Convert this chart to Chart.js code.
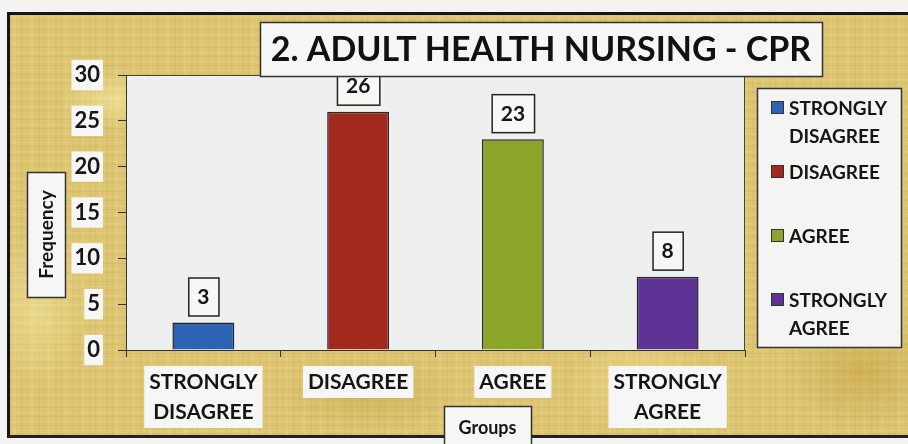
<!DOCTYPE html>
<html>
<head>
<meta charset="utf-8">
<script src="https://cdn.jsdelivr.net/npm/chart.js@4"></script>
<style>
  html, body { margin:0; padding:0; width:908px; height:444px; overflow:hidden; background:#f3f3f1; }
  #frame {
    position:absolute; left:7px; top:12px; width:901px; height:426px;
    border-top:3px solid #151515; border-left:3px solid #151515; border-bottom:3px solid #222;
    box-sizing:border-box;
    background-color:#ddc572;
    background-image:
      radial-gradient(ellipse 60px 30px at 12% 20%, rgba(250,240,170,0.55), rgba(0,0,0,0)),
      radial-gradient(ellipse 90px 40px at 40% 90%, rgba(190,150,50,0.35), rgba(0,0,0,0)),
      radial-gradient(ellipse 70px 50px at 70% 88%, rgba(250,235,160,0.45), rgba(0,0,0,0)),
      radial-gradient(ellipse 80px 60px at 95% 85%, rgba(185,140,40,0.35), rgba(0,0,0,0)),
      radial-gradient(ellipse 50px 80px at 3% 70%, rgba(245,235,165,0.5), rgba(0,0,0,0)),
      repeating-linear-gradient(90deg, rgba(150,110,20,0.09) 0 1px, rgba(0,0,0,0) 1px 4px, rgba(255,245,190,0.10) 4px 6px, rgba(0,0,0,0) 6px 11px, rgba(150,110,20,0.06) 11px 13px, rgba(0,0,0,0) 13px 17px),
      repeating-linear-gradient(0deg, rgba(120,90,10,0.07) 0 1px, rgba(0,0,0,0) 1px 3px, rgba(255,250,200,0.09) 3px 5px, rgba(0,0,0,0) 5px 9px);
  }
  canvas { position:absolute; left:0; top:0; }
</style>
</head>
<body>
<div id="frame"></div>
<canvas id="c" width="908" height="444"></canvas>
<script>
// ---- data ----
const chartTitle = '2. ADULT HEALTH NURSING - CPR';
const categories = [['STRONGLY', 'DISAGREE'], 'DISAGREE', 'AGREE', ['STRONGLY', 'AGREE']];
const legendLabels = [['STRONGLY', 'DISAGREE'], ['DISAGREE'], ['AGREE'], ['STRONGLY', 'AGREE']];
const frequencies = [3, 26, 23, 8];
const yTickValues = [0, 5, 10, 15, 20, 25, 30];
const barColors = ['#2d62b4', '#a3291f', '#8ba42a', '#5f3395'];
const yAxisTitle = 'Frequency';
const xAxisTitle = 'Groups';

const FONT = 'Lato, "Open Sans", sans-serif';
const X_FONT_SIZE = 21, X_LINE_H = 30, X_TICK_LEN = 7, X_PAD = 10;

function box(ctx, x, y, w, h, fill, stroke, lw) {
  ctx.save();
  ctx.fillStyle = fill;
  ctx.fillRect(x, y, w, h);
  if (stroke) {
    ctx.strokeStyle = stroke;
    ctx.lineWidth = lw;
    ctx.strokeRect(x + 0.5, y + 0.5, w, h);
  }
  ctx.restore();
}

const decorPlugin = {
  id: 'decor',
  beforeDraw(chart) {
    const {ctx, chartArea: a} = chart;
    ctx.save();
    ctx.fillStyle = '#eef0ef';
    ctx.fillRect(a.left, a.top, a.right - a.left, a.bottom - a.top);
    ctx.strokeStyle = '#444';
    ctx.lineWidth = 1;
    ctx.beginPath();
    ctx.moveTo(a.left, a.top + 0.5); ctx.lineTo(a.right - 0.5, a.top + 0.5); ctx.lineTo(a.right - 0.5, a.bottom);
    ctx.stroke();
    // backdrops behind x tick labels
    const xs = chart.scales.x;
    ctx.font = 'bold ' + X_FONT_SIZE + 'px ' + FONT;
    categories.forEach((lab, i) => {
      const lines = Array.isArray(lab) ? lab : [lab];
      const w = Math.max(...lines.map(l => ctx.measureText(l).width)) + 10;
      const h = lines.length * X_LINE_H + 2;
      const cx = xs.getPixelForTick(i);
      const top = a.bottom + X_TICK_LEN + X_PAD - 1;
      box(ctx, cx - w / 2, top, w, h, '#f6f6f4', null, 0);
    });
    ctx.restore();
  },
  afterDatasetsDraw(chart) {
    const {ctx} = chart;
    const meta = chart.getDatasetMeta(0);
    ctx.save();
    ctx.font = 'bold 21px ' + FONT;
    ctx.textAlign = 'center';
    ctx.textBaseline = 'middle';
    meta.data.forEach((bar, i) => {
      const txt = String(frequencies[i]);
      const tw = ctx.measureText(txt).width;
      const w = tw + 18, h = 38;
      const x = bar.x - w / 2, y = bar.y - 7 - h;
      box(ctx, x, y, w, h, '#f7f7f5', '#222', 1.5);
      ctx.fillStyle = '#151515';
      ctx.fillText(txt, bar.x, y + h / 2 + 1);
    });
    ctx.restore();
  },
  afterDraw(chart) {
    const {ctx} = chart;
    ctx.save();
    // legend
    box(ctx, 757, 88, 144, 259, '#f4f5f3', '#333', 1.5);
    ctx.font = 'bold 19px ' + FONT;
    ctx.textBaseline = 'middle';
    ctx.textAlign = 'left';
    legendLabels.forEach((lines, i) => {
      const cy = 108 + i * 64;
      ctx.fillStyle = barColors[i];
      ctx.fillRect(771, cy - 7, 13, 13);
      ctx.strokeStyle = '#333';
      ctx.lineWidth = 1;
      ctx.strokeRect(771.5, cy - 6.5, 12, 12);
      ctx.fillStyle = '#151515';
      lines.forEach((ln, j) => ctx.fillText(ln, 789, cy + 1 + j * 28));
    });
    // y axis title
    box(ctx, 27, 172, 38, 125, '#f6f6f4', '#333', 1.5);
    ctx.save();
    ctx.translate(46, 234.5);
    ctx.rotate(-Math.PI / 2);
    ctx.font = 'bold 19px ' + FONT;
    ctx.textAlign = 'center';
    ctx.textBaseline = 'middle';
    ctx.fillStyle = '#151515';
    ctx.fillText(yAxisTitle, 0, 1);
    ctx.restore();
    // x axis title
    box(ctx, 444, 406, 87, 44, '#f6f6f4', '#333', 1.5);
    ctx.font = 'bold 18px ' + FONT;
    ctx.textAlign = 'center';
    ctx.textBaseline = 'middle';
    ctx.fillStyle = '#151515';
    ctx.fillText(xAxisTitle, 487.5, 428);
    // chart title
    box(ctx, 260, 22, 562, 54, '#f6f6f4', '#333', 1.5);
    ctx.font = 'bold 34px ' + FONT;
    ctx.textAlign = 'center';
    ctx.textBaseline = 'middle';
    ctx.fillStyle = '#111';
    ctx.fillText(chartTitle, 541, 50);
    ctx.restore();
  }
};

new Chart(document.getElementById('c'), {
  type: 'bar',
  data: {
    labels: categories,
    datasets: [{
      data: frequencies,
      backgroundColor: barColors,
      borderColor: '#262626',
      borderWidth: 1.5,
      barPercentage: 0.4,
      categoryPercentage: 1
    }]
  },
  options: {
    responsive: false,
    animation: false,
    layout: { padding: { top: 75, right: 163, left: 0, bottom: 0 } },
    plugins: { legend: { display: false }, tooltip: { enabled: false }, title: { display: false } },
    scales: {
      y: {
        min: 0, max: 30,
        afterBuildTicks(s) { s.ticks = yTickValues.map(v => ({ value: v })); },
        afterFit(s) { s.width = 126; },
        ticks: {
          color: '#151515',
          font: { family: FONT, size: 22, weight: 'bold' },
          padding: 18,
          showLabelBackdrop: true,
          backdropColor: '#f6f6f4',
          backdropPadding: { x: 3, y: 2 }
        },
        grid: { drawOnChartArea: false, drawTicks: true, tickLength: 8, color: '#333', lineWidth: 1 },
        border: { display: true, color: '#333', width: 1 }
      },
      x: {
        afterFit(s) { s.height = 94; },
        ticks: {
          color: '#151515',
          font: { family: FONT, size: X_FONT_SIZE, weight: 'bold', lineHeight: X_LINE_H / X_FONT_SIZE },
          padding: X_PAD,
          maxRotation: 0,
          autoSkip: false
        },
        grid: { drawOnChartArea: false, drawTicks: true, tickLength: X_TICK_LEN, offset: true, color: '#333', lineWidth: 1 },
        border: { display: true, color: '#333', width: 1 }
      }
    }
  },
  plugins: [decorPlugin]
});
</script>
</body>
</html>
